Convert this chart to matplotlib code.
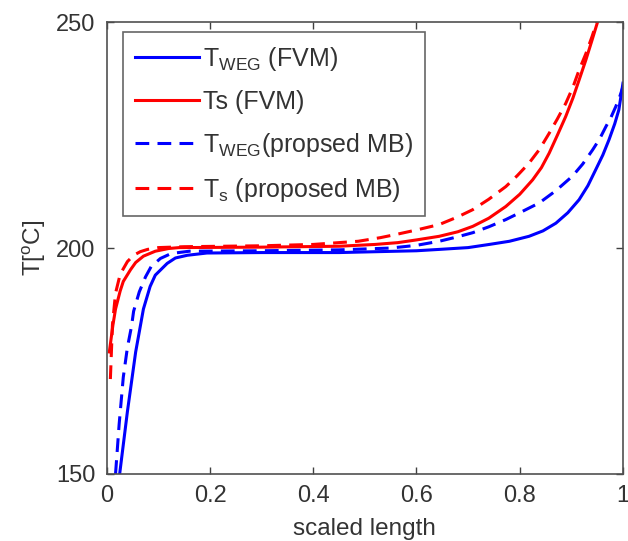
import matplotlib.pyplot as plt
import numpy as np

plt.rcParams['font.family'] = ['Liberation Sans', 'DejaVu Sans']
plt.rcParams['mathtext.default'] = 'regular'

# temperature profiles along the scaled length
x_weg_fvm = [0.025, 0.04, 0.056, 0.071, 0.084, 0.094, 0.117, 0.133, 0.156, 0.194, 0.3, 0.45, 0.6, 0.644, 0.7,
             0.741, 0.78, 0.818, 0.845, 0.87, 0.893, 0.915, 0.932, 0.947, 0.961, 0.973, 0.984, 0.992, 1.0]
t_weg_fvm = [150, 163.8, 177, 186.5, 191.5, 194, 196.6, 197.8, 198.4, 198.9, 199.0, 199.0, 199.4, 199.7, 200.1,
             200.8, 201.5, 202.6, 203.8, 205.5, 207.8, 210.7, 213.8, 217.3, 220.6, 224.0, 227.5, 230.6, 236.5]

x_ts_fvm = [0.005, 0.012, 0.017, 0.026, 0.032, 0.046, 0.056, 0.071, 0.094, 0.12, 0.14, 0.3, 0.45, 0.52, 0.564,
            0.6, 0.644, 0.68, 0.709, 0.74, 0.773, 0.8, 0.825, 0.842, 0.857, 0.873, 0.889, 0.903, 0.915, 0.928,
            0.94, 0.952]
t_ts_fvm = [177, 183, 186.5, 190.5, 192.6, 195.2, 196.8, 198.2, 199.3, 199.9, 200.1, 200.2, 200.4, 200.8, 201.2,
            201.8, 202.6, 203.6, 204.8, 206.6, 209.2, 211.9, 215.1, 217.8, 221.0, 225.0, 229.1, 233.2, 237.2, 241.6,
            246.0, 250.5]

x_weg_mb = [0.017, 0.024, 0.032, 0.04, 0.048, 0.052, 0.063, 0.075, 0.086, 0.104, 0.125, 0.16, 0.3, 0.45, 0.55,
            0.6, 0.644, 0.68, 0.709, 0.74, 0.773, 0.805, 0.838, 0.87, 0.902, 0.922, 0.941, 0.955, 0.967, 0.977,
            0.986, 0.994, 1.0]
t_weg_mb = [150, 161, 171.4, 178, 182.7, 186, 190.3, 193.6, 195.9, 197.7, 198.8, 199.3, 199.4, 199.6, 200.0,
            200.6, 201.5, 202.5, 203.4, 204.7, 206.3, 208.1, 210.0, 212.7, 215.9, 218.6, 221.7, 224.2, 226.9, 229.0,
            231.3, 233.6, 235.7]

x_ts_mb = [0.007, 0.011, 0.017, 0.026, 0.04, 0.052, 0.065, 0.079, 0.1, 0.15, 0.3, 0.4, 0.487, 0.53, 0.564,
           0.6, 0.644, 0.68, 0.709, 0.74, 0.773, 0.795, 0.818, 0.838, 0.857, 0.873, 0.889, 0.903, 0.915, 0.928,
           0.94, 0.952]
t_ts_mb = [171, 183, 190, 194.2, 197.0, 198.4, 199.2, 199.7, 200.1, 200.3, 200.5, 200.8, 201.5, 202.3, 203.1,
           204.0, 205.2, 206.9, 208.5, 210.8, 213.6, 216.0, 218.8, 221.8, 225.4, 228.6, 232.0, 235.6, 239.4, 243.0,
           246.8, 251.0]

fig = plt.figure(figsize=(6.28, 5.41), dpi=100)
ax = fig.add_axes([0.170, 0.124, 0.822, 0.835])

ax.plot(x_weg_fvm, t_weg_fvm, color='#0000ff', lw=2.2, label='T$_{WEG}$ (FVM)')
ax.plot(x_ts_fvm, t_ts_fvm, color='#ff0000', lw=2.2, label='Ts (FVM)')
ax.plot(x_weg_mb, t_weg_mb, color='#0000ff', lw=2.2, ls=(0, (4.5, 2.7)), label='T$_{WEG}$(propsed MB)')
ax.plot(x_ts_mb, t_ts_mb, color='#ff0000', lw=2.2, ls=(0, (4.5, 2.7)), label='T$_s$ (proposed MB)')

ax.set_xlim(0, 1)
ax.set_ylim(150, 250)
ax.set_xticks([0, 0.2, 0.4, 0.6, 0.8, 1])
ax.set_xticklabels(['0', '0.2', '0.4', '0.6', '0.8', '1'])
ax.set_yticks([150, 200, 250])
ax.tick_params(direction='in', top=True, right=True, length=5, width=1,
               labelsize=17, colors='#404040', labelcolor='#333333', pad=8)
for s in ax.spines.values():
    s.set_color('#505050')
    s.set_linewidth(1.2)

ax.set_xlabel('scaled length', fontsize=17.5, color='#333333', labelpad=8)
ax.set_ylabel('T[$^o$C]', fontsize=17.5, color='#333333', labelpad=6)

leg = ax.legend(loc='upper left', bbox_to_anchor=(0.031, 0.978), fontsize=18, frameon=True,
                fancybox=False, handlelength=2.55, handletextpad=0.15, borderpad=0.5,
                labelspacing=0.68, borderaxespad=0)
leg.get_frame().set_edgecolor('#404040')
leg.get_frame().set_linewidth(1.2)
for t in leg.get_texts():
    t.set_color('#333333')

fig.savefig('out.png', dpi=100)
